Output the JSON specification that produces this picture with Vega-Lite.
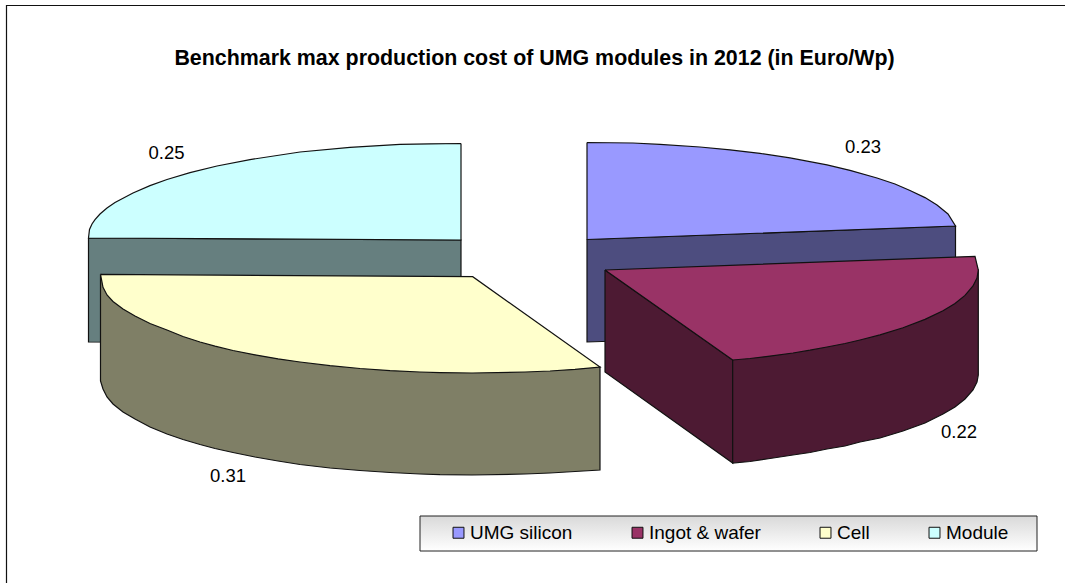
{"$schema":"https://vega.github.io/schema/vega-lite/v6.json","width":1065,"height":583,"autosize":"none","padding":0,"background":"white","config":{"view":{"stroke":null},"font":"Liberation Sans"},"title":{"text":"Benchmark max production cost of UMG modules in 2012 (in Euro/Wp)","font":"Liberation Sans","fontSize":21.4,"fontWeight":"bold","color":"#000000","anchor":"middle","offset":-69,"dx":2},"datasets":{"outline":[
{"part":"Frame","seq":1,"x":6.5,"y":583},{"part":"Frame","seq":2,"x":6.5,"y":5.5},{"part":"Frame","seq":3,"x":1065,"y":5.5},
{"part":"Module side","seq":1,"x":88.5,"y":238},{"part":"Module side","seq":2,"x":461,"y":240},{"part":"Module side","seq":3,"x":461,"y":343},{"part":"Module side","seq":4,"x":88.5,"y":342},{"part":"Module side","seq":5,"x":88.5,"y":238},
{"part":"Module","seq":1,"x":461,"y":143.5},{"part":"Module","seq":2,"x":430,"y":143.8},{"part":"Module","seq":3,"x":400,"y":144.3},{"part":"Module","seq":4,"x":350,"y":147.3},{"part":"Module","seq":5,"x":300,"y":152},{"part":"Module","seq":6,"x":250,"y":159.6},{"part":"Module","seq":7,"x":217,"y":166},{"part":"Module","seq":8,"x":190,"y":172.7},{"part":"Module","seq":9,"x":167,"y":179.5},{"part":"Module","seq":10,"x":150,"y":185.6},{"part":"Module","seq":11,"x":133,"y":193},{"part":"Module","seq":12,"x":115,"y":202.5},{"part":"Module","seq":13,"x":107,"y":208},{"part":"Module","seq":14,"x":100,"y":214},{"part":"Module","seq":15,"x":95,"y":219.7},{"part":"Module","seq":16,"x":92,"y":224},{"part":"Module","seq":17,"x":89.5,"y":229.5},{"part":"Module","seq":18,"x":88.5,"y":238},{"part":"Module","seq":19,"x":461,"y":240},{"part":"Module","seq":20,"x":461,"y":143.5},
{"part":"UMG side","seq":1,"x":587,"y":239.5},{"part":"UMG side","seq":2,"x":955.5,"y":226},{"part":"UMG side","seq":3,"x":955.5,"y":330},{"part":"UMG side","seq":4,"x":587,"y":342},{"part":"UMG side","seq":5,"x":587,"y":239.5},
{"part":"UMG silicon","seq":1,"x":587,"y":142.5},{"part":"UMG silicon","seq":2,"x":633,"y":143},{"part":"UMG silicon","seq":3,"x":660,"y":144.4},{"part":"UMG silicon","seq":4,"x":700,"y":147},{"part":"UMG silicon","seq":5,"x":730,"y":149.8},{"part":"UMG silicon","seq":6,"x":760,"y":153.4},{"part":"UMG silicon","seq":7,"x":790,"y":157.9},{"part":"UMG silicon","seq":8,"x":827,"y":164.9},{"part":"UMG silicon","seq":9,"x":850,"y":170.3},{"part":"UMG silicon","seq":10,"x":877,"y":178},{"part":"UMG silicon","seq":11,"x":895,"y":184},{"part":"UMG silicon","seq":12,"x":910,"y":190.5},{"part":"UMG silicon","seq":13,"x":925,"y":197.6},{"part":"UMG silicon","seq":14,"x":937,"y":205},{"part":"UMG silicon","seq":15,"x":948,"y":214},{"part":"UMG silicon","seq":16,"x":955.5,"y":226},{"part":"UMG silicon","seq":17,"x":587,"y":239.5},{"part":"UMG silicon","seq":18,"x":587,"y":142.5},
{"part":"Ingot inner","seq":1,"x":605,"y":270},{"part":"Ingot inner","seq":2,"x":732.7,"y":360},{"part":"Ingot inner","seq":3,"x":732.7,"y":463},{"part":"Ingot inner","seq":4,"x":605,"y":372},{"part":"Ingot inner","seq":5,"x":605,"y":270},
{"part":"Ingot outer","seq":1,"x":732.7,"y":360},{"part":"Ingot outer","seq":2,"x":978.3,"y":270},{"part":"Ingot outer","seq":3,"x":978.3,"y":375},{"part":"Ingot outer","seq":4,"x":977,"y":382},{"part":"Ingot outer","seq":5,"x":973,"y":390},{"part":"Ingot outer","seq":6,"x":965,"y":399},{"part":"Ingot outer","seq":7,"x":955,"y":407},{"part":"Ingot outer","seq":8,"x":943,"y":414},{"part":"Ingot outer","seq":9,"x":925,"y":423},{"part":"Ingot outer","seq":10,"x":903,"y":431},{"part":"Ingot outer","seq":11,"x":880,"y":438},{"part":"Ingot outer","seq":12,"x":860,"y":442},{"part":"Ingot outer","seq":13,"x":845,"y":446},{"part":"Ingot outer","seq":14,"x":827,"y":449},{"part":"Ingot outer","seq":15,"x":810,"y":452.5},{"part":"Ingot outer","seq":16,"x":793,"y":455},{"part":"Ingot outer","seq":17,"x":770,"y":458.5},{"part":"Ingot outer","seq":18,"x":750,"y":461.5},{"part":"Ingot outer","seq":19,"x":732.7,"y":463},{"part":"Ingot outer","seq":20,"x":732.7,"y":360},
{"part":"Ingot & wafer","seq":1,"x":605,"y":270},{"part":"Ingot & wafer","seq":2,"x":975,"y":256.3},{"part":"Ingot & wafer","seq":3,"x":978.3,"y":270},{"part":"Ingot & wafer","seq":4,"x":977,"y":278},{"part":"Ingot & wafer","seq":5,"x":973,"y":286},{"part":"Ingot & wafer","seq":6,"x":965,"y":295.4},{"part":"Ingot & wafer","seq":7,"x":955,"y":303.4},{"part":"Ingot & wafer","seq":8,"x":943,"y":310.7},{"part":"Ingot & wafer","seq":9,"x":925,"y":319.4},{"part":"Ingot & wafer","seq":10,"x":903,"y":327.8},{"part":"Ingot & wafer","seq":11,"x":880,"y":334.9},{"part":"Ingot & wafer","seq":12,"x":860,"y":340},{"part":"Ingot & wafer","seq":13,"x":845,"y":343.5},{"part":"Ingot & wafer","seq":14,"x":827,"y":347},{"part":"Ingot & wafer","seq":15,"x":810,"y":350.2},{"part":"Ingot & wafer","seq":16,"x":793,"y":353},{"part":"Ingot & wafer","seq":17,"x":770,"y":356.1},{"part":"Ingot & wafer","seq":18,"x":750,"y":358.5},{"part":"Ingot & wafer","seq":19,"x":732.7,"y":360},{"part":"Ingot & wafer","seq":20,"x":605,"y":270},
{"part":"Cell side","seq":1,"x":100.5,"y":274.3},{"part":"Cell side","seq":2,"x":100.5,"y":381},{"part":"Cell side","seq":3,"x":103,"y":389},{"part":"Cell side","seq":4,"x":107,"y":397},{"part":"Cell side","seq":5,"x":113,"y":404},{"part":"Cell side","seq":6,"x":123,"y":412},{"part":"Cell side","seq":7,"x":135,"y":419},{"part":"Cell side","seq":8,"x":150,"y":427},{"part":"Cell side","seq":9,"x":167,"y":434},{"part":"Cell side","seq":10,"x":183,"y":439.5},{"part":"Cell side","seq":11,"x":200,"y":444.5},{"part":"Cell side","seq":12,"x":215,"y":448.5},{"part":"Cell side","seq":13,"x":233,"y":452.5},{"part":"Cell side","seq":14,"x":255,"y":457},{"part":"Cell side","seq":15,"x":278,"y":461},{"part":"Cell side","seq":16,"x":300,"y":464.5},{"part":"Cell side","seq":17,"x":330,"y":468},{"part":"Cell side","seq":18,"x":360,"y":470.5},{"part":"Cell side","seq":19,"x":390,"y":472.5},{"part":"Cell side","seq":20,"x":420,"y":474},{"part":"Cell side","seq":21,"x":440,"y":474.7},{"part":"Cell side","seq":22,"x":472,"y":475},{"part":"Cell side","seq":23,"x":525,"y":474},{"part":"Cell side","seq":24,"x":550,"y":473},{"part":"Cell side","seq":25,"x":575,"y":471.5},{"part":"Cell side","seq":26,"x":600,"y":470},{"part":"Cell side","seq":27,"x":600,"y":367},{"part":"Cell side","seq":28,"x":100.5,"y":274.3},
{"part":"Cell","seq":1,"x":100.5,"y":274.3},{"part":"Cell","seq":2,"x":472.7,"y":276.7},{"part":"Cell","seq":3,"x":600,"y":367},{"part":"Cell","seq":4,"x":575,"y":369.3},{"part":"Cell","seq":5,"x":550,"y":371},{"part":"Cell","seq":6,"x":525,"y":372},{"part":"Cell","seq":7,"x":472,"y":373},{"part":"Cell","seq":8,"x":440,"y":372.6},{"part":"Cell","seq":9,"x":420,"y":372},{"part":"Cell","seq":10,"x":390,"y":370.6},{"part":"Cell","seq":11,"x":360,"y":368.5},{"part":"Cell","seq":12,"x":330,"y":365.7},{"part":"Cell","seq":13,"x":300,"y":362},{"part":"Cell","seq":14,"x":278,"y":358.8},{"part":"Cell","seq":15,"x":255,"y":354.8},{"part":"Cell","seq":16,"x":233,"y":350.5},{"part":"Cell","seq":17,"x":215,"y":346.2},{"part":"Cell","seq":18,"x":200,"y":342},{"part":"Cell","seq":19,"x":183,"y":336.5},{"part":"Cell","seq":20,"x":167,"y":330},{"part":"Cell","seq":21,"x":150,"y":323.5},{"part":"Cell","seq":22,"x":135,"y":316},{"part":"Cell","seq":23,"x":123,"y":309},{"part":"Cell","seq":24,"x":113,"y":301.5},{"part":"Cell","seq":25,"x":107,"y":295},{"part":"Cell","seq":26,"x":103,"y":287.3},{"part":"Cell","seq":27,"x":100.5,"y":274.3}
],"labels":[{"slice":"UMG silicon","value":0.23,"x":863,"y":147},{"slice":"Ingot & wafer","value":0.22,"x":959,"y":432},{"slice":"Cell","value":0.31,"x":228,"y":476},{"slice":"Module","value":0.25,"x":166.5,"y":153}],"box":[{"x":420,"x2":1037,"y":516,"y2":551}]},
"layer":[
{"data":{"name":"outline"},"mark":{"type":"line","filled":true,"stroke":"#111111","strokeWidth":1.2},"encoding":{"x":{"field":"x","type":"quantitative","axis":null,"scale":{"domain":[0,1065],"nice":false,"zero":false}},"y":{"field":"y","type":"quantitative","axis":null,"scale":{"domain":[583,0],"nice":false,"zero":false}},"order":{"field":"seq","type":"quantitative"},"fill":{"field":"part","type":"nominal","sort":null,"scale":{"domain":["Frame","UMG silicon","Ingot & wafer","Cell","Module","UMG side","Ingot inner","Ingot outer","Cell side","Module side"],"range":["#ffffff","#9999FF","#993366","#FFFFCC","#CCFFFF","#4D4D7F","#4D1A33","#4D1A33","#7F7F66","#667F7F"]},"legend":{"values":["UMG silicon","Ingot & wafer","Cell","Module"],"title":null,"orient":"none","legendX":449,"legendY":523,"direction":"horizontal","columns":4,"columnPadding":55,"padding":0,"symbolType":"square","symbolSize":120,"symbolStrokeColor":"#111111","symbolStrokeWidth":1,"labelFont":"Liberation Sans","labelFontSize":19,"labelColor":"#000000","labelOffset":2,"labelLimit":200}}}},
{"data":{"name":"box"},"mark":{"type":"rect","stroke":"#222222","strokeWidth":1,"fill":{"gradient":"linear","x1":0,"y1":0,"x2":0,"y2":1,"stops":[{"offset":0,"color":"#d9d9d9"},{"offset":1,"color":"#ffffff"}]}},"encoding":{"x":{"field":"x","type":"quantitative"},"x2":{"field":"x2"},"y":{"field":"y","type":"quantitative"},"y2":{"field":"y2"}}},
{"data":{"name":"labels"},"mark":{"type":"text","font":"Liberation Sans","fontSize":18.5,"color":"#000000","align":"center","baseline":"middle"},"encoding":{"x":{"field":"x","type":"quantitative"},"y":{"field":"y","type":"quantitative"},"text":{"field":"value","type":"quantitative","format":".2f"}}}
]}
